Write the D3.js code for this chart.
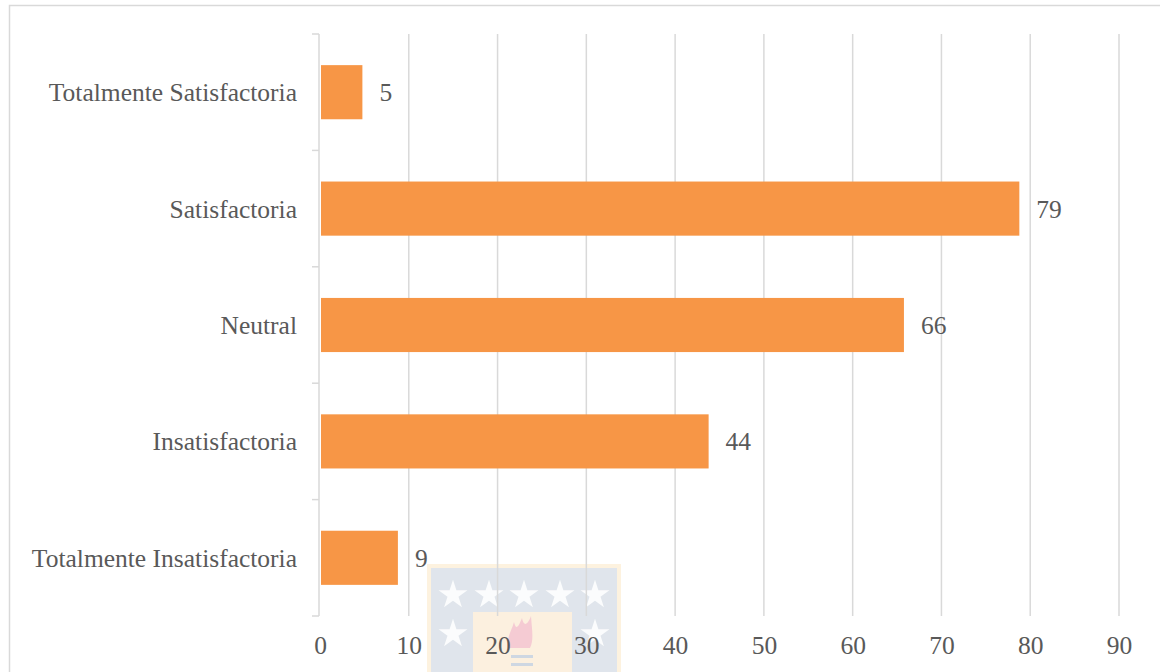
<!DOCTYPE html>
<html>
<head>
<meta charset="utf-8">
<script src="https://cdn.jsdelivr.net/npm/d3@7"></script>
<style>
  html, body { margin: 0; padding: 0; background: #fff; }
  svg { display: block; }
  text { font-family: "Liberation Serif", "Times New Roman", serif; fill: #595959; }
</style>
</head>
<body>
<svg id="chart" width="1160" height="672"></svg>
<script>
const categories = ["Totalmente Satisfactoria", "Satisfactoria", "Neutral", "Insatisfactoria", "Totalmente Insatisfactoria"];
const values = [5, 79, 66, 44, 9];
const tickValues = [0, 10, 20, 30, 40, 50, 60, 70, 80, 90];

(function () {
const svg = d3.select("#chart");
const W = 1160, H = 672;
const mLeft = 320, mRight = 1119, mTop = 34, mBottom = 616;
const FS = 25.5;

// outer chart frame
svg.append("rect").attr("x", 9.5).attr("y", 5.5).attr("width", W + 20).attr("height", H + 20)
  .attr("fill", "#fff").attr("stroke", "#d9d9d9").attr("stroke-width", 1.5);

const x = d3.scaleLinear().domain([0, 90]).range([mLeft, mRight]);
const y = d3.scaleBand().domain(categories).range([mTop, mBottom]).paddingInner(0.535).paddingOuter(0.2675);

// watermark (decorative, drawn under the chart)
const wm = svg.append("g").attr("opacity", 0.9);
wm.append("rect").attr("x", 427).attr("y", 564).attr("width", 194).attr("height", 120).attr("fill", "#fdf1dc");
wm.append("rect").attr("x", 431).attr("y", 568).attr("width", 186).attr("height", 120).attr("fill", "#dde3ea");
wm.append("rect").attr("x", 473).attr("y", 612).attr("width", 99).attr("height", 80).attr("fill", "#fcefdc");
const star = d3.symbol().type(d3.symbolStar).size(260);
[453, 489, 524, 560, 595].forEach(cx => wm.append("path").attr("d", star()).attr("transform", `translate(${cx},595)`).attr("fill", "#fbfcfd"));
[453, 595].forEach(cx => wm.append("path").attr("d", star()).attr("transform", `translate(${cx},634)`).attr("fill", "#fbfcfd"));
wm.append("path").attr("d", "M508,648 C506,638 512,630 514,622 C516,630 518,628 522,618 C524,628 528,624 531,616 C532,630 534,640 530,648 Z").attr("fill", "#f5c6cf");
[655, 663].forEach(yy => wm.append("rect").attr("x", 511).attr("y", yy).attr("width", 22).attr("height", 3).attr("fill", "#c9d3df"));

// vertical gridlines
svg.append("g").selectAll("line").data(tickValues.filter(d => d > 0)).join("line")
  .attr("x1", d => x(d)).attr("x2", d => x(d)).attr("y1", mTop).attr("y2", mBottom)
  .attr("stroke", "#d9d9d9").attr("stroke-width", 1.5);

// y axis with category ticks
const yAxisG = svg.append("g").attr("transform", `translate(${x(0) - 1},0)`);
yAxisG.append("line").attr("x1", 0).attr("x2", 0).attr("y1", mTop).attr("y2", mBottom)
  .attr("stroke", "#d9d9d9").attr("stroke-width", 1.5);
const tickYs = categories.map(c => y(c) - y.step() * y.paddingInner() / 2).concat([mBottom]);
yAxisG.selectAll("line.tk").data(tickYs).join("line").attr("class", "tk")
  .attr("x1", -7).attr("x2", 0).attr("y1", d => d).attr("y2", d => d)
  .attr("stroke", "#d9d9d9").attr("stroke-width", 1.5);

// bars
svg.append("g").selectAll("rect").data(categories).join("rect")
  .attr("x", x(0) + 1).attr("y", (d) => y(d))
  .attr("width", (d, i) => x(values[i]) - x(0) - 3)
  .attr("height", y.bandwidth())
  .attr("fill", "#f79646");

// value labels
svg.append("g").selectAll("text").data(categories).join("text")
  .attr("x", (d, i) => x(values[i]) + 15)
  .attr("y", d => y(d) + y.bandwidth() / 2)
  .attr("dy", "0.35em")
  .attr("font-size", FS)
  .text((d, i) => values[i]);

// category labels
svg.append("g").selectAll("text").data(categories).join("text")
  .attr("x", 297).attr("y", d => y(d) + y.bandwidth() / 2)
  .attr("dy", "0.35em").attr("text-anchor", "end").attr("font-size", FS)
  .text(d => d);

// x tick labels
const xAxis = d3.axisBottom(x).tickValues(tickValues).tickSize(0).tickPadding(0);
const xg = svg.append("g").attr("transform", `translate(0,${mBottom})`).call(xAxis);
xg.select(".domain").remove();
xg.selectAll("text").attr("font-size", FS).attr("y", 29).attr("dy", "0.35em")
  .style("font-family", '"Liberation Serif", serif').attr("fill", "#595959");
})();
</script>
</body>
</html>
